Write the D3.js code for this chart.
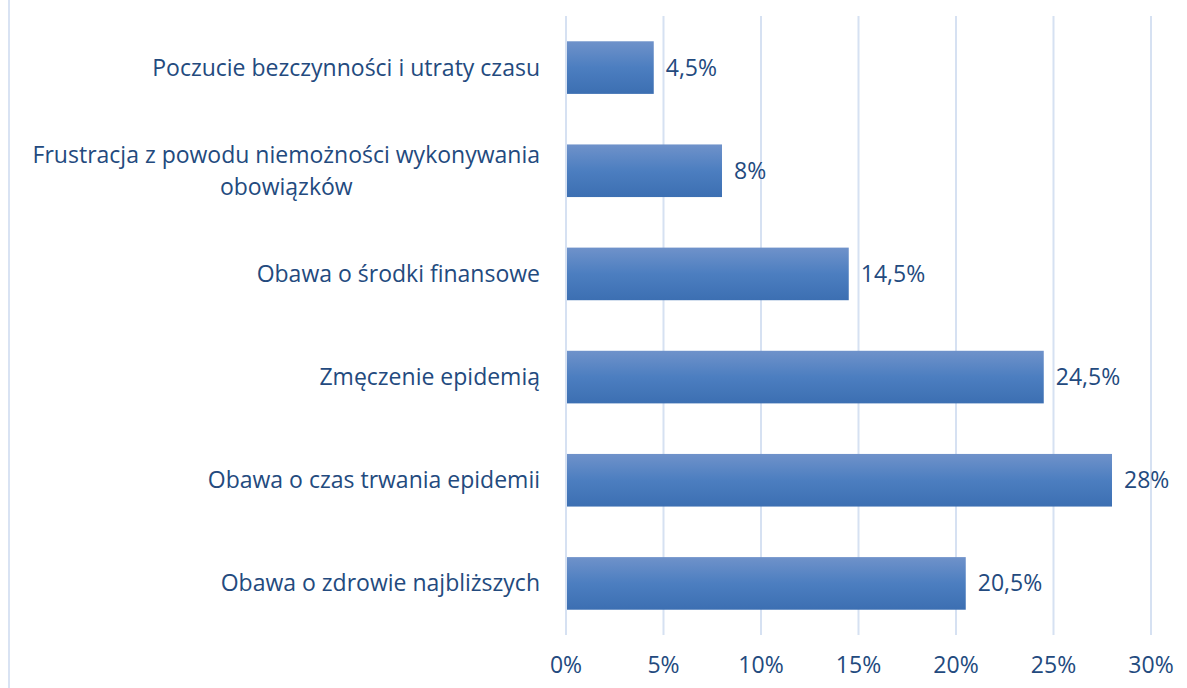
<!DOCTYPE html>
<html><head><meta charset="utf-8">
<script src="https://cdn.jsdelivr.net/npm/d3@7"></script>
<style>body{margin:0;background:#fff}svg{display:block}</style>
</head><body>
<script>
const categories = [
  ["Poczucie bezczynności i utraty czasu"],
  ["Frustracja z powodu niemożności wykonywania", "obowiązków"],
  ["Obawa o środki finansowe"],
  ["Zmęczenie epidemią"],
  ["Obawa o czas trwania epidemii"],
  ["Obawa o zdrowie najbliższych"]
];
const values = [4.5, 8, 14.5, 24.5, 28, 20.5];
const valueLabels = ["4,5%", "8%", "14,5%", "24,5%", "28%", "20,5%"];
const ticks = [0, 5, 10, 15, 20, 25, 30];
const tickLabels = ["0%", "5%", "10%", "15%", "20%", "25%", "30%"];

const W = 1187, H = 688;
const FONT = "'Open Sans', sans-serif";
const FS = 23;
const TXT = "#234a7e";
const svg = d3.select("body").append("svg").attr("width", W).attr("height", H);

const defs = svg.append("defs");
const g = defs.append("linearGradient").attr("id", "bg").attr("x1", 0).attr("y1", 0).attr("x2", 0).attr("y2", 1);
g.append("stop").attr("offset", "0%").attr("stop-color", "#6f92ca");
g.append("stop").attr("offset", "50%").attr("stop-color", "#4c7ec0");
g.append("stop").attr("offset", "100%").attr("stop-color", "#3c6fb2");

svg.append("line").attr("x1", 9).attr("x2", 9).attr("y1", 0).attr("y2", H)
  .attr("stroke", "#d9e3f3").attr("stroke-width", 2);

const x = d3.scaleLinear().domain([0, 30]).range([566, 1151]);
const y = d3.scaleBand().domain(d3.range(categories.length)).range([16, 635]).paddingInner(0.49).paddingOuter(0.245);

svg.append("g").selectAll("line").data(ticks).join("line")
  .attr("x1", d => x(d)).attr("x2", d => x(d))
  .attr("y1", 16).attr("y2", 635)
  .attr("stroke", "#d6e1f2").attr("stroke-width", 2);

svg.append("g").selectAll("rect").data(values).join("rect")
  .attr("x", x(0) + 1).attr("y", (d, i) => y(i))
  .attr("width", d => x(d) - x(0) - 1).attr("height", y.bandwidth())
  .attr("fill", "url(#bg)");

svg.append("g").selectAll("text").data(values).join("text")
  .attr("x", d => x(d) + 12).attr("y", (d, i) => y(i) + y.bandwidth() / 2)
  .attr("dy", "0.35em")
  .attr("font-family", FONT).attr("font-size", FS).attr("fill", TXT)
  .text((d, i) => valueLabels[i]);

const cl = svg.append("g");
categories.forEach((lines, i) => {
  const cy = y(i) + y.bandwidth() / 2;
  const lh = 32;
  if (lines.length === 1) {
    cl.append("text").attr("x", 540).attr("y", cy).attr("dy", "0.35em")
      .attr("text-anchor", "end").attr("font-family", FONT).attr("font-size", FS).attr("fill", TXT)
      .text(lines[0]);
  } else {
    const t0 = cl.append("text").attr("x", 540).attr("y", cy - lh / 2).attr("dy", "0.35em")
      .attr("text-anchor", "end").attr("font-family", FONT).attr("font-size", FS).attr("fill", TXT)
      .text(lines[0]);
    const w = t0.node().getComputedTextLength();
    const cx = 540 - w / 2;
    cl.append("text").attr("x", cx).attr("y", cy + lh / 2).attr("dy", "0.35em")
      .attr("text-anchor", "middle").attr("font-family", FONT).attr("font-size", FS).attr("fill", TXT)
      .text(lines[1]);
  }
});

svg.append("g").selectAll("text").data(ticks).join("text")
  .attr("x", d => x(d)).attr("y", 665).attr("dy", "0.35em")
  .attr("text-anchor", "middle").attr("font-family", FONT).attr("font-size", FS).attr("fill", TXT)
  .text((d, i) => tickLabels[i]);
</script>
</body></html>
